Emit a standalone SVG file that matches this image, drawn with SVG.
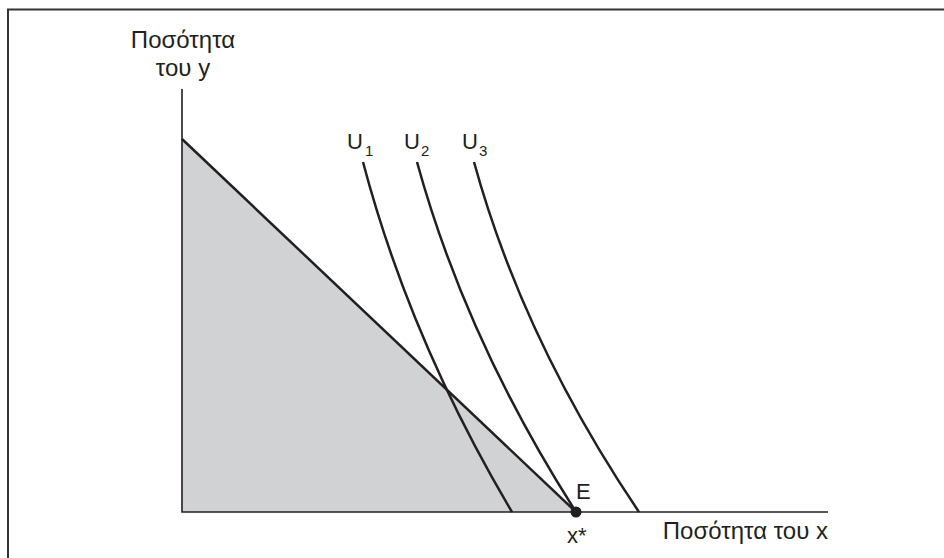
<svg xmlns="http://www.w3.org/2000/svg" width="944" height="558" viewBox="0 0 944 558">
<style>
text{font-family:"Liberation Sans",Arial,sans-serif;fill:#231f20}
.lbl{font-size:24px}
.sm{font-size:22px}
.sub{font-size:15px}
.curve{fill:none;stroke:#231f20;stroke-width:2.5}
.axis{fill:none;stroke:#231f20;stroke-width:1.6}
</style>
<rect width="944" height="558" fill="#ffffff"/>
<path d="M8,558 V9.5 H944" fill="none" stroke="#333333" stroke-width="2"/>
<g id="feasible">
<polygon points="182,139 182,512 576,512" fill="#d1d2d4"/>
</g>
<g id="connectors">
<path class="axis" d="M182,89 V512 H828"/>
<path class="curve" d="M182,139 L576,512"/>
<path id="u1" class="curve" d="M363,162 Q410,340 512,512"/>
<path id="u2" class="curve" d="M417,162 Q466,340 576,512"/>
<path id="u3" class="curve" d="M474,162 Q523,340 639,512"/>
</g>
<g id="point-E">
<circle cx="576" cy="512" r="5.5" fill="#231f20"/>
<text class="sm" x="576" y="499">E</text>
</g>
<g id="labels">
<text class="lbl" x="183" y="48" text-anchor="middle">Ποσότητα</text>
<text class="lbl" x="183" y="76" text-anchor="middle">του y</text>
<text class="lbl" x="828" y="539" text-anchor="end">Ποσότητα του x</text>
<text class="sm" x="567" y="543">x*</text>
<text class="sm" x="347" y="149">U</text><text class="sub" x="365" y="156">1</text>
<text class="sm" x="404" y="149">U</text><text class="sub" x="421" y="156">2</text>
<text class="sm" x="462" y="149">U</text><text class="sub" x="479" y="156">3</text>
</g>
</svg>
